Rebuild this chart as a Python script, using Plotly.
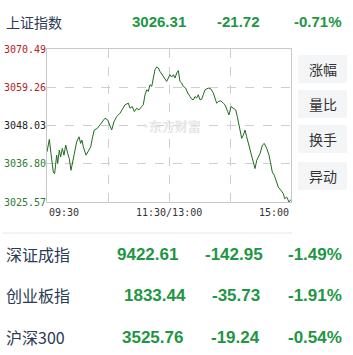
import plotly.graph_objects as go

# ---- data ----
minutes = [0, 2.3, 3.9, 6.2, 7.5, 9.5, 10.5, 12.1, 13.4, 15.1, 16.7, 18.4, 20.4, 21.9, 23.6, 24.9, 26.9,
           29.2, 31.5, 33.1, 34.4, 35.7, 38.4, 41.3, 43, 44.9, 46.5, 49.5, 52.1, 54.8, 57, 59.7, 62, 63.6,
           65.9, 68.5, 71.8, 74.5, 76.7, 80, 81.6, 83.9, 85.9, 88.2, 90.5, 93.1, 94.7, 96.4, 98.1, 99.6,
           101.3, 103, 104.6, 106.2, 107.9, 109.5, 111.1, 113.4, 116.1, 117.7, 119.4, 121, 122.6, 124.3,
           125.9, 127.6, 129.2, 130.8, 132.5, 134.1, 136.4, 138.4, 140.7, 142.3, 143.9, 145.6, 147.2, 148.8,
           150.5, 152.2, 153.7, 155.4, 158.7, 161.3, 163.6, 165.2, 166.9, 168.5, 171.1, 173.4, 175.1, 177.7,
           179, 181, 183.3, 185.6, 187.2, 189.2, 191.5, 193.1, 194.8, 196.4, 198, 199.7, 201.3, 203, 204.6,
           206.3, 207.9, 209.6, 211.9, 213.7, 216.1, 218.4, 220, 221.6, 223.6, 225.2, 227.5, 230.2, 232.5,
           233.8, 235.8, 238, 240]
prices = [3040.29, 3043.95, 3039.81, 3034.38, 3033.90, 3039.31, 3036.86, 3040.79, 3038.81, 3041.29, 3039.31,
          3042.27, 3039.81, 3038.34, 3034.88, 3036.86, 3040.29, 3043.24, 3044.72, 3042.77, 3043.74, 3041.77,
          3039.31, 3040.79, 3041.77, 3044.72, 3046.70, 3047.20, 3048.18, 3049.15, 3050.16, 3049.66, 3048.18,
          3046.70, 3049.15, 3050.63, 3051.64, 3053.11, 3054.09, 3054.59, 3053.11, 3053.59, 3052.11, 3053.11,
          3052.61, 3053.59, 3054.09, 3057.04, 3058.52, 3058.02, 3060.00, 3059.50, 3062.45, 3064.43, 3065.23,
          3064.93, 3063.93, 3062.95, 3061.98, 3060.97, 3061.98, 3062.95, 3062.27, 3062.95, 3061.98, 3063.46,
          3064.14, 3060.97, 3060.50, 3059.50, 3059.02, 3057.55, 3056.54, 3055.77, 3055.57, 3056.54, 3056.07,
          3057.04, 3055.57, 3055.77, 3057.04, 3058.52, 3059.02, 3058.73, 3057.55, 3056.07, 3054.59, 3055.06,
          3055.27, 3054.59, 3054.09, 3052.11, 3051.13, 3053.59, 3053.11, 3052.61, 3050.63, 3047.68, 3044.25,
          3045.22, 3046.70, 3044.72, 3042.77, 3040.79, 3038.81, 3037.33, 3035.38, 3037.83, 3038.81, 3039.81,
          3042.27, 3042.77, 3041.29, 3039.31, 3036.86, 3034.38, 3033.40, 3031.92, 3029.94, 3028.97, 3027.99,
          3026.52, 3027.02, 3025.57, 3026.31]

y_ticks = [3070.49, 3059.26, 3048.03, 3036.80, 3025.57]
y_tick_colors = ["#b22222", "#b22222", "#222222", "#2e7d32", "#2e7d32"]
x_ticks = [0, 120, 240]
x_tick_labels = ["09:30", "11:30/13:00", "15:00"]

header = ["上证指数", "3026.31", "-21.72", "-0.71%"]
rows_names = ["深证成指", "创业板指", "沪深300"]
rows_price = ["9422.61", "1833.44", "3525.76"]
rows_chg = ["-142.95", "-35.73", "-19.24"]
rows_pct = ["-1.49%", "-1.91%", "-0.54%"]
buttons = ["涨幅", "量比", "换手", "异动"]

W, H = 353, 355
L, R, T, B = 47, 291, 49, 202

fig = go.Figure()
fig.add_trace(go.Scatter(x=minutes, y=prices, mode="lines",
                         line=dict(color="#1f6b1f", width=1), hoverinfo="skip"))

grid = "#cfcfcf"
fig.update_layout(
    width=W, height=H, margin=dict(l=L, r=W - R, t=T, b=H - B),
    paper_bgcolor="white", plot_bgcolor="white", showlegend=False,
    xaxis=dict(range=[0, 240], tickvals=[60, 120, 180], showticklabels=False, showgrid=True,
               gridcolor=grid, griddash="dash", gridwidth=1, zeroline=False,
               showline=True, linecolor="#c8c8c8", mirror=True, ticks=""),
    yaxis=dict(range=[y_ticks[-1], y_ticks[0]], tickvals=y_ticks[1:4], showticklabels=False,
               showgrid=True, gridcolor=grid, griddash="dash", gridwidth=1, zeroline=False,
               showline=True, linecolor="#c8c8c8", mirror=True, ticks=""),
)

mono = "DejaVu Sans Mono, monospace"
pw = R - L
ph = B - T

def px(x):
    return (x - L) / pw

def py(y):
    return (B - y) / ph

ann = []
for v, c in zip(y_ticks, y_tick_colors):
    ann.append(dict(x=px(2), xref="paper", y=v, yref="y", text=v.__format__(".2f"),
                    showarrow=False, xanchor="left", yanchor="middle",
                    font=dict(family=mono, size=10, color=c)))
anchors = ["left", "center", "right"]
for t, lab, a in zip(x_ticks, x_tick_labels, anchors):
    ann.append(dict(x=t, xref="x", y=py(212), yref="paper", text=lab, showarrow=False,
                    xanchor=a, yanchor="middle", font=dict(family=mono, size=10, color="#333333")))

name_col = "#2b3a55"
green = "#1e9644"
sans = "Noto Sans CJK SC, Noto Sans, sans-serif"
bold = "Liberation Sans, Arial, sans-serif"
# header row
ann.append(dict(x=px(4), xref="paper", y=py(22), yref="paper", text=header[0], showarrow=False,
                xanchor="left", yanchor="middle", font=dict(family=sans, size=14, color=name_col)))
for txt, xr in zip(header[1:], [188, 262, 344]):
    ann.append(dict(x=px(xr), xref="paper", y=py(22), yref="paper", text="<b>" + txt + "</b>",
                    showarrow=False, xanchor="right", yanchor="middle",
                    font=dict(family=bold, size=15, color=green)))
# bottom rows
row_y = [254, 295, 337]
price_r = [180, 188, 185]
chg_r = [265, 262, 262]
for i in range(3):
    ann.append(dict(x=px(4), xref="paper", y=py(row_y[i]), yref="paper", text=rows_names[i],
                    showarrow=False, xanchor="left", yanchor="middle",
                    font=dict(family=sans, size=16, color=name_col)))
    for txt, xr in zip([rows_price[i], rows_chg[i], rows_pct[i]], [price_r[i], chg_r[i], 344]):
        ann.append(dict(x=px(xr), xref="paper", y=py(row_y[i]), yref="paper", text="<b>" + txt + "</b>",
                        showarrow=False, xanchor="right", yanchor="middle",
                        font=dict(family=bold, size=17, color=green)))

# watermark
ann.append(dict(x=px(171), xref="paper", y=py(125), yref="paper", text="<b>◔东方财富</b>", showarrow=False,
                xanchor="center", yanchor="middle", font=dict(family=sans, size=13, color="#e6e6e6")))

# buttons
shapes = []
btn_y = [(55, 83), (90, 118), (125, 153), (162, 190)]
for lab, (y0, y1) in zip(buttons, btn_y):
    shapes.append(dict(type="rect", xref="paper", yref="paper", x0=px(298), x1=px(347),
                       y0=py(y1), y1=py(y0), fillcolor="#f4f5f7", line=dict(width=0), layer="below"))
    ann.append(dict(x=px(322.5), xref="paper", y=py((y0 + y1) / 2), yref="paper", text=lab,
                    showarrow=False, xanchor="center", yanchor="middle",
                    font=dict(family=sans, size=14, color="#333333")))

# separator line
shapes.append(dict(type="line", xref="paper", yref="paper", x0=px(2), x1=px(292), y0=py(233), y1=py(233),
                   line=dict(color="#e6e6e6", width=1)))

fig.update_layout(annotations=ann, shapes=shapes)
fig.write_html("out.html", config={"displayModeBar": False})
